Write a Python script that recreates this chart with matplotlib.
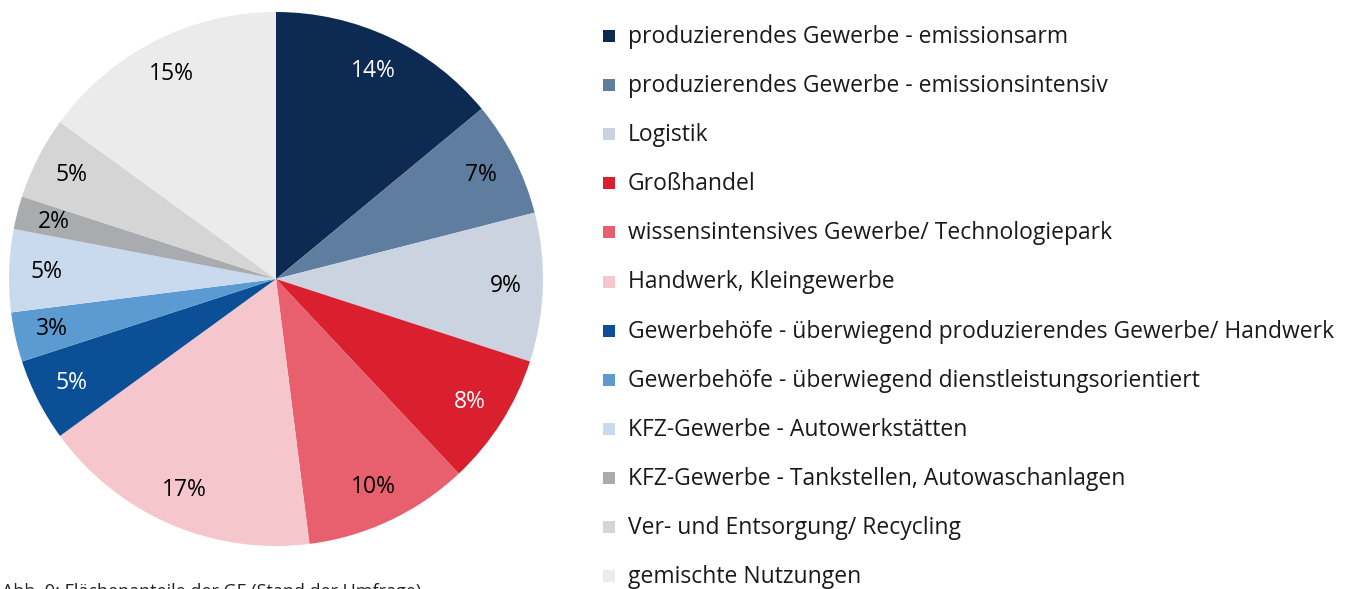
import matplotlib.pyplot as plt
from matplotlib.patches import Rectangle

# Flächenanteile, im Uhrzeigersinn ab 12 Uhr
categories = [
    "produzierendes Gewerbe - emissionsarm",
    "produzierendes Gewerbe - emissionsintensiv",
    "Logistik",
    "Großhandel",
    "wissensintensives Gewerbe/ Technologiepark",
    "Handwerk, Kleingewerbe",
    "Gewerbehöfe - überwiegend produzierendes Gewerbe/ Handwerk",
    "Gewerbehöfe - überwiegend dienstleistungsorientiert",
    "KFZ-Gewerbe - Autowerkstätten",
    "KFZ-Gewerbe - Tankstellen, Autowaschanlagen",
    "Ver- und Entsorgung/ Recycling",
    "gemischte Nutzungen",
]
shares = [14, 7, 9, 8, 10, 17, 5, 3, 5, 2, 5, 15]
colors = ["#0c2a52", "#5f7d9f", "#cbd3e1", "#da1f2e", "#e8606d", "#f5c6cb",
          "#0b4f97", "#5b9bd1", "#c9daee", "#a9abae", "#d5d5d5", "#ebebeb"]
label_colors = ["white", "black", "black", "white", "black", "black",
                "white", "black", "black", "black", "black", "black"]

plt.rcParams['font.family'] = ['Open Sans', 'DejaVu Sans']

fig = plt.figure(figsize=(13.57, 5.89), dpi=100)
ax = fig.add_axes([9 / 1357, 1 - 546 / 589, 534 / 1357, 534 / 589])

wedges, texts, autotexts = ax.pie(
    shares, colors=colors, startangle=90, counterclock=False,
    autopct="%.0f%%", pctdistance=0.86, radius=1,
    wedgeprops=dict(linewidth=0),
    textprops=dict(fontsize=16.5))
for t, c in zip(autotexts, label_colors):
    t.set_color(c)
ax.set_xlim(-1, 1)
ax.set_ylim(-1, 1)
ax.set_aspect("equal")

# legend drawn by hand, one row every 49 px
for i, (name, col) in enumerate(zip(categories, colors)):
    yc = 36 + i * 49.1
    fig.patches.append(Rectangle((603 / 1357, 1 - (yc + 6) / 589), 12 / 1357, 12 / 589,
                                 transform=fig.transFigure, facecolor=col, edgecolor="none"))
    fig.text(628 / 1357, 1 - (yc + 1) / 589, name, fontsize=16.5, va="center", ha="left",
             color="#1a1a1a")

# caption, cut off at the bottom edge as in the source
fig.text(2 / 1357, 1 - 583 / 589, "Abb. 9: Flächenanteile der GE (Stand der Umfrage)",
         fontsize=13, va="top", ha="left", color="#222222")

fig.savefig("out.png", dpi=100)
